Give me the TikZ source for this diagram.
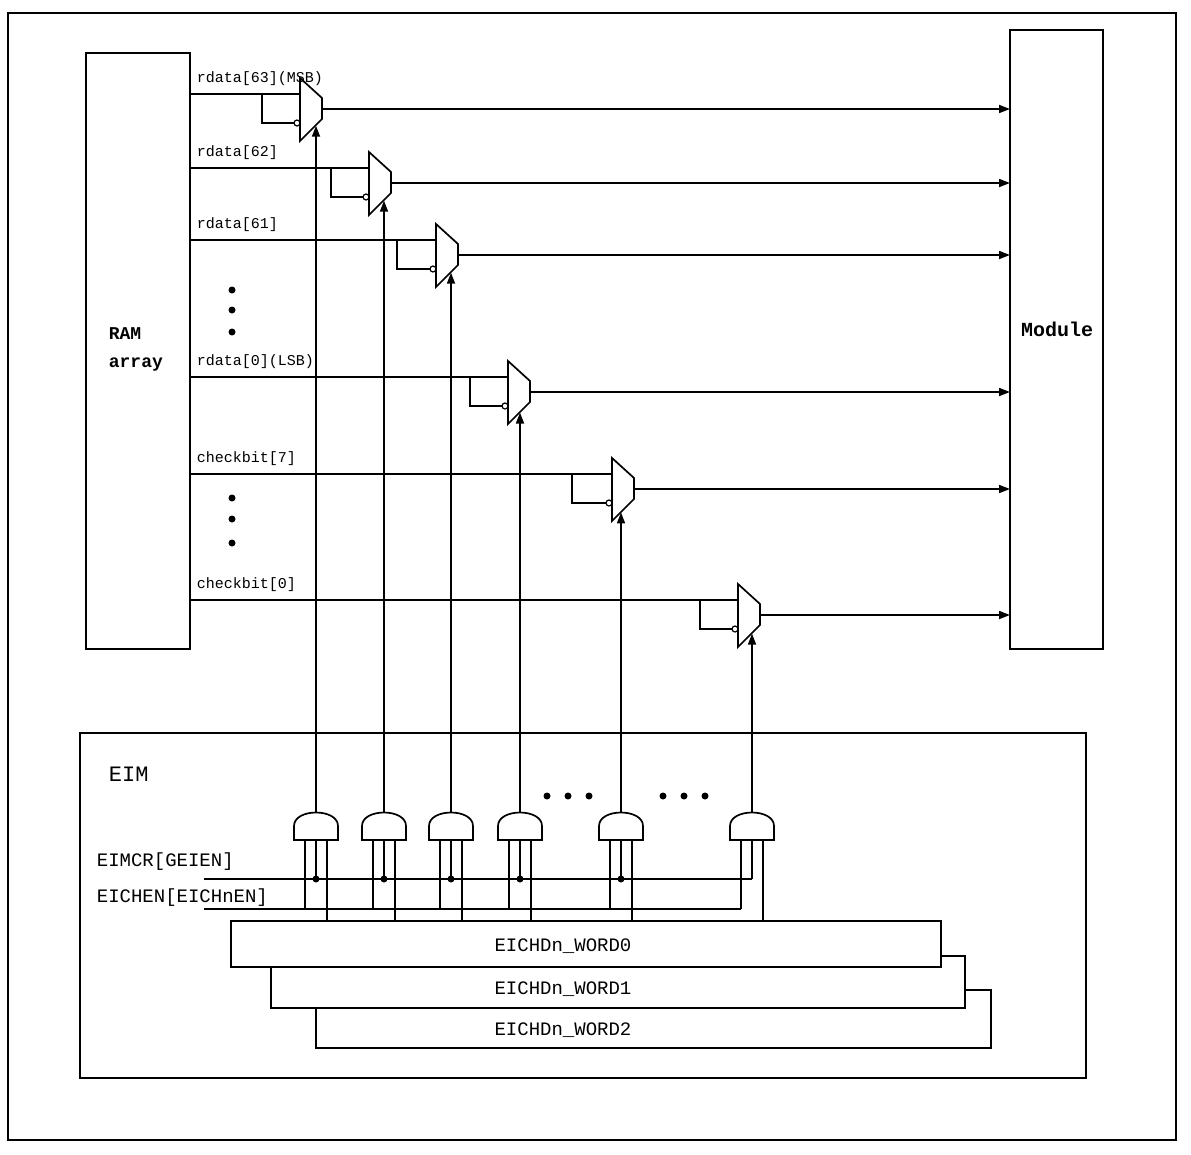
\documentclass[tikz,border=0pt]{standalone}
\usepackage{fontspec}
\setmonofont{Liberation Mono}
\usetikzlibrary{arrows.meta}
\begin{document}
\begin{tikzpicture}[x=1pt,y=-1pt,line width=1.7pt,
  lbl/.style={font=\ttfamily\fontsize{15}{15}\selectfont,anchor=base west,inner sep=0},
  big/.style={font=\ttfamily\fontsize{19}{19}\selectfont,inner sep=0},
  arr/.style={-{Triangle[length=11pt,width=8pt]}},
  dot/.style={circle,fill,inner sep=0,minimum size=7pt}]
\useasboundingbox (0,0) rectangle (1191,1154);
\draw (8,13) rectangle (1176,1140);
\draw (86,53) rectangle (190,649);
\node[font=\ttfamily\bfseries\fontsize{18}{28}\selectfont,align=left,anchor=west,inner sep=0] (ram) at (108,349) {RAM\\array};
\draw (1010,30) rectangle (1103,649);
\node[font=\ttfamily\bfseries\fontsize{20}{20}\selectfont,inner sep=0] (mod) at (1057,329) {Module};
\foreach \m/\L/\F/\g/\t [count=\i] in {109/300/262/316/rdata[63](MSB),183/369/331/384/rdata[62],255/436/397/451/rdata[61],392/508/470/520/rdata[0](LSB),489/612/572/621/checkbit[7],615/738/700/752/checkbit[0]}{
  \pgfmathsetmacro{\inn}{\m-15}
  \node[lbl] (l\i) at (196,\inn-12) {\t};
  \draw (\L,\m-31) -- (\L+22,\m-11) -- (\L+22,\m+10) -- (\L,\m+32) -- cycle;
  \coordinate (mi\i) at (\L,\inn);
  \coordinate (r\i) at (190,\inn);
  \draw (r\i) -- (mi\i);
  \draw (\F,\inn) -- (\F,\m+14) -- (\L-6,\m+14);
  \draw[line width=1.2pt] (\L-3,\m+14) circle (3);
  \coordinate (mo\i) at (\L+22,\m);
  \coordinate (md\i) at (1010,\m);
  \draw[arr] (mo\i) -- (md\i);
  \draw (\g-22,840) -- (\g-22,826) .. controls (\g-22,808) and (\g+22,808) .. (\g+22,826) -- (\g+22,840) -- cycle;
  \coordinate (gt\i) at (\g,812);
  \coordinate (ms\i) at (\g,{\m+32-(\g-\L)/22*21});
  \draw[arr] (gt\i) -- (ms\i);
  \draw (\g+11,840) -- (\g+11,921);
}
\foreach \g in {316,384,451,520,621}{
  \draw (\g-11,840) -- (\g-11,909);
  \draw (\g,840) -- (\g,879);
  \node[dot] at (\g,879) {};
}
\draw (752-11,840) -- (752-11,909);
\draw (752,840) -- (752,879);
\draw (204,879) -- (752,879);
\draw (204,909) -- (741,909);
\node[lbl,font=\ttfamily\fontsize{19}{19}\selectfont] (ge) at (96,866) {EIMCR[GEIEN]};
\node[lbl,font=\ttfamily\fontsize{19}{19}\selectfont] (ce) at (96,902) {EICHEN[EICHnEN]};
\draw (80,733) rectangle (1086,1078);
\node[font=\ttfamily\fontsize{22}{22}\selectfont,anchor=base west,inner sep=0] (eim) at (108,781) {EIM};
\draw (316,990) rectangle (991,1048);
\draw[fill=white] (271,956) rectangle (965,1008);
\draw[fill=white] (231,921) rectangle (941,967);
\node[big] (w0) at (563,946) {EICHDn\_WORD0};
\node[big] (w1) at (563,989) {EICHDn\_WORD1};
\node[big] (w2) at (563,1030) {EICHDn\_WORD2};
\foreach \y in {290,310,332,498,519,543} \node[dot] at (232,\y) {};
\foreach \x in {547,568,589,663,684,705} \node[dot] at (\x,796) {};
\end{tikzpicture}
\end{document}
